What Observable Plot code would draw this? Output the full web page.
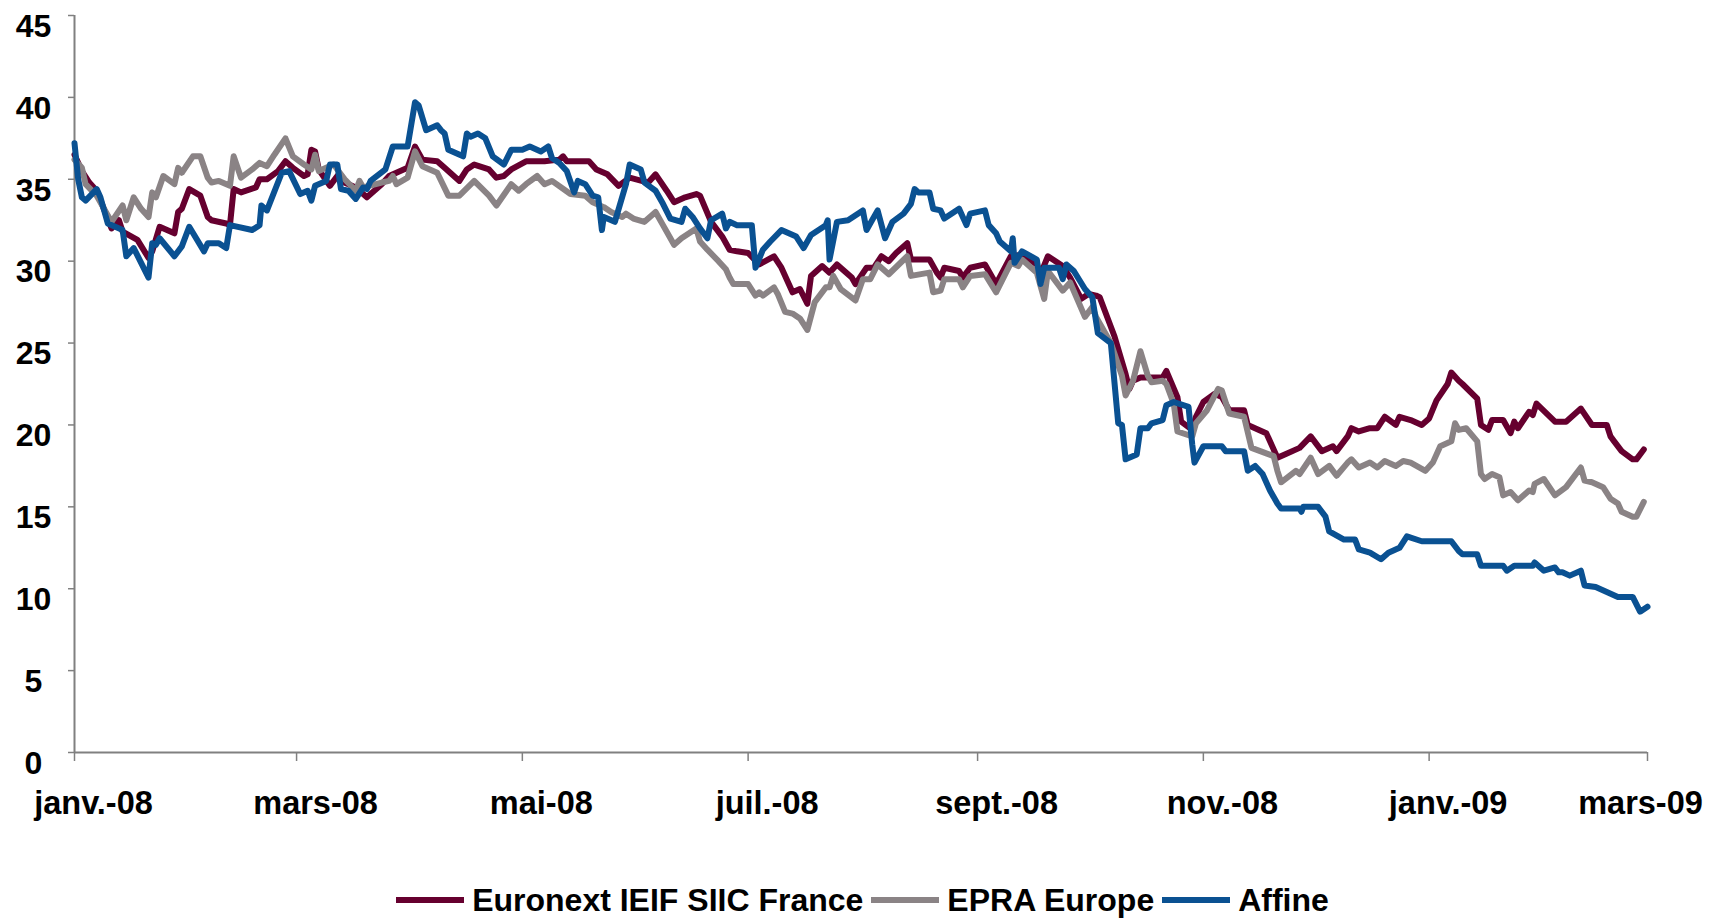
<!DOCTYPE html>
<html>
<head>
<meta charset="utf-8">
<script src="https://cdn.jsdelivr.net/npm/d3@7"></script>
<script src="https://cdn.jsdelivr.net/npm/@observablehq/plot@0.6"></script>
<style>
  html, body { margin: 0; padding: 0; background: #ffffff; }
  body { width: 1725px; height: 919px; overflow: hidden; font-family: "Liberation Sans", Arial, sans-serif; }
  #chart svg { display: block; overflow: visible; }
  #legend { display: flex; justify-content: center; align-items: center; margin-top: 26px; height: 38px;
            font-size: 32px; font-weight: bold; color: #000; }
  .item { display: flex; align-items: center; margin: 0 4px; }
  .sw { width: 68px; height: 6px; margin-right: 8px; }
</style>
</head>
<body>
<div id="chart"></div>
<div id="legend"></div>
<script>
// ---- Data (day offset from 1 Jan 2008, value) ----
const seriesNames = ["Euronext IEIF SIIC France", "EPRA Europe", "Affine"];
const seriesColors = ["#66002f", "#8a8385", "#0a5192"];
const xTickDates = ["2008-01-01","2008-03-01","2008-05-01","2008-07-01","2008-09-01","2008-11-01","2009-01-01","2009-03-01"];
const xTickLabels = ["janv.-08","mars-08","mai-08","juil.-08","sept.-08","nov.-08","janv.-09","mars-09"];
const yTicks = [0,5,10,15,20,25,30,35,40,45];

const euronext = [[0,36.5],[2,35.5],[4,34.8],[6,34.3],[10,32.0],[12,32.5],[13,31.8],[17,31.3],[20,30.2],[21,30.6],[23,32.1],[25,31.9],[27,31.7],[28,33.0],[29,33.2],[31,34.4],[34,34.0],[36,32.7],[37,32.5],[41,32.3],[42,32.2],[43,34.4],[45,34.2],[49,34.5],[50,35.0],[52,35.0],[55,35.5],[57,36.1],[59,35.7],[62,35.2],[63,35.3],[64,36.8],[65,36.7],[66,35.6],[69,34.6],[71,35.2],[72,34.9],[76,34.5],[79,33.9],[83,34.7],[85,35.2],[90,35.7],[92,37.0],[94,36.2],[98,36.1],[100,35.7],[104,34.9],[106,35.6],[108,35.9],[112,35.6],[114,35.1],[116,35.2],[118,35.6],[122,36.1],[127,36.1],[131,36.2],[132,36.4],[133,36.1],[139,36.1],[141,35.6],[144,35.3],[147,34.6],[150,35.1],[155,34.8],[157,35.3],[160,34.3],[162,33.6],[165,33.9],[168,34.1],[169,34.0],[172,32.4],[175,31.5],[177,30.7],[179,30.6],[182,30.5],[185,29.8],[189,30.3],[191,29.6],[194,28.1],[196,28.3],[198,27.4],[199,29.1],[202,29.7],[204,29.3],[206,29.8],[210,29.0],[211,28.6],[214,29.6],[216,29.6],[218,30.3],[220,30.0],[222,30.5],[225,31.1],[226,30.1],[231,30.1],[233,29.3],[234,29.0],[235,29.6],[239,29.4],[240,29.0],[242,29.6],[246,29.8],[249,28.6],[253,30.3],[256,30.4],[260,29.8],[261,29.2],[263,30.3],[267,29.7],[269,29.0],[272,27.7],[274,28.0],[276,27.9],[277,27.8],[281,25.4],[284,23.1],[285,22.2],[286,22.7],[288,22.9],[294,22.9],[295,23.3],[298,21.7],[299,20.2],[302,19.7],[303,20.5],[305,21.4],[308,21.9],[310,21.7],[312,20.9],[316,20.9],[317,20.0],[322,19.5],[325,18.0],[327,18.2],[331,18.6],[334,19.3],[337,18.4],[340,18.7],[341,18.4],[344,19.3],[345,19.8],[347,19.6],[350,19.8],[352,19.8],[354,20.5],[357,20.0],[358,20.5],[361,20.3],[364,20.0],[366,20.4],[368,21.5],[371,22.5],[372,23.2],[374,22.7],[375,22.5],[379,21.6],[380,20.0],[382,19.7],[383,20.3],[386,20.3],[388,19.5],[389,20.2],[390,19.8],[393,20.8],[394,20.6],[395,21.3],[400,20.2],[403,20.2],[407,21.0],[410,20.0],[414,20.0],[415,19.3],[416,19.0],[418,18.4],[421,17.9],[422,17.9],[424,18.5]];

const epra = [[0,36.2],[2,35.7],[3,34.7],[6,34.0],[10,32.4],[13,33.4],[14,32.5],[16,33.9],[18,33.2],[20,32.7],[21,34.2],[22,33.9],[24,35.2],[27,34.7],[28,35.7],[29,35.4],[32,36.4],[34,36.4],[36,35.1],[37,34.8],[39,34.9],[42,34.6],[43,36.4],[45,35.1],[48,35.6],[50,36.0],[52,35.8],[54,36.5],[57,37.5],[59,36.4],[62,35.9],[64,35.6],[65,36.5],[66,35.5],[68,35.7],[70,35.9],[73,35.0],[76,34.3],[77,34.9],[78,34.5],[83,34.8],[85,34.9],[86,35.2],[87,34.7],[90,35.1],[92,36.7],[94,35.8],[98,35.4],[101,34.0],[104,34.0],[108,34.9],[112,34.0],[114,33.4],[118,34.7],[120,34.3],[122,34.7],[125,35.2],[127,34.7],[129,34.9],[134,34.1],[138,34.0],[140,33.6],[143,33.3],[145,33.0],[148,32.7],[149,32.9],[151,32.6],[154,32.4],[157,33.0],[159,32.2],[162,31.0],[164,31.4],[168,32.0],[169,31.2],[171,30.7],[174,30.0],[176,29.5],[177,29.0],[178,28.6],[182,28.6],[184,27.9],[185,28.1],[186,27.9],[189,28.4],[190,28.0],[192,26.9],[194,26.8],[196,26.5],[198,25.8],[200,27.5],[203,28.4],[204,28.4],[205,29.1],[207,28.3],[211,27.6],[213,28.9],[215,28.9],[217,29.8],[220,29.2],[225,30.3],[226,29.1],[231,29.3],[232,28.1],[234,28.2],[235,28.9],[239,28.9],[240,28.4],[242,29.1],[246,29.2],[249,28.1],[253,29.9],[255,29.7],[256,30.1],[260,29.3],[262,27.7],[263,29.4],[267,28.2],[269,28.7],[273,26.6],[275,27.2],[276,26.6],[280,25.0],[283,23.0],[284,21.8],[286,22.7],[288,24.5],[290,23.0],[291,22.6],[294,22.7],[295,22.5],[297,21.3],[298,19.6],[302,19.3],[303,20.1],[306,20.9],[309,22.2],[310,22.1],[312,20.7],[316,20.5],[318,18.6],[324,18.1],[325,17.2],[326,16.5],[330,17.2],[331,17.0],[334,18.0],[336,17.0],[339,17.5],[341,16.9],[344,17.7],[345,17.9],[347,17.4],[350,17.7],[352,17.4],[354,17.8],[357,17.5],[359,17.8],[361,17.7],[365,17.2],[367,17.7],[369,18.7],[372,19.0],[373,20.1],[374,19.7],[376,19.8],[379,19.0],[380,17.0],[381,16.7],[383,17.0],[385,16.8],[386,15.7],[388,15.9],[390,15.4],[393,16.0],[394,15.9],[394.5,16.4],[397,16.7],[400,15.7],[403,16.2],[407,17.4],[408,16.6],[410,16.5],[413,16.2],[415,15.5],[417,15.2],[418,14.7],[421,14.4],[422,14.4],[424,15.3]];

const affine = [[0,37.2],[1,35.0],[2,33.9],[3,33.7],[6,34.4],[7,33.9],[9,32.3],[13,31.9],[14,30.3],[16,30.8],[20,29.0],[21,31.1],[22,31.0],[23,31.4],[27,30.3],[29,30.9],[31,32.1],[35,30.6],[36,31.1],[39,31.1],[41,30.8],[42,32.2],[48,31.9],[50,32.2],[50.5,33.4],[52,33.1],[56,35.4],[58,35.5],[61,34.1],[63,34.3],[64,33.7],[65,34.6],[68,34.9],[69,35.9],[71,35.9],[72,34.4],[74,34.3],[76,33.8],[78,34.5],[79,34.4],[80,34.9],[84,35.6],[86,37.0],[90,37.0],[92,39.7],[93,39.5],[95,38.0],[98,38.3],[99,38.0],[100,37.8],[101,36.8],[105,36.4],[106,37.8],[107,37.6],[109,37.8],[111,37.5],[113,36.4],[116,35.9],[118,36.8],[121,36.8],[123,37.0],[126,36.7],[128,37.0],[129,36.3],[131,36.0],[133,35.5],[135,34.2],[136,34.9],[138,34.7],[140,34.0],[141.5,33.9],[142.5,31.9],[143,32.7],[146,32.4],[149,34.7],[150,35.9],[153,35.6],[154,34.8],[157,34.3],[159,33.5],[161,32.6],[164,32.4],[165,33.2],[167,32.7],[169,32.0],[171,31.4],[172,32.5],[175,32.9],[176,32.0],[177,32.4],[179,32.2],[183,32.2],[184,29.6],[186,30.7],[188,31.2],[191,31.9],[193,31.7],[195,31.5],[197,30.8],[199,31.6],[203,32.2],[203.5,32.5],[204,30.1],[206,32.4],[209,32.5],[213,33.1],[214,31.9],[217,33.1],[219,31.4],[221,32.4],[224,32.9],[226,33.5],[227,34.4],[228,34.2],[231,34.2],[232,33.2],[234,33.1],[235,32.6],[239,33.2],[241,32.2],[242,32.9],[246,33.1],[247,32.2],[249,31.7],[250,31.2],[253,30.6],[253.5,31.4],[254,29.9],[256,30.6],[260,30.1],[261,28.6],[262,29.6],[266,29.6],[267,28.9],[268,29.8],[270,29.4],[273,28.3],[275,27.8],[276.5,25.6],[280,25.0],[282,20.1],[283,20.0],[284,17.9],[287,18.2],[288,19.8],[290,19.8],[291,20.1],[294,20.3],[295,21.2],[297,21.4],[301,21.1],[302,18.8],[302.6,17.7],[305,18.7],[310,18.7],[311,18.4],[316,18.4],[317,17.2],[319,17.5],[321,17.0],[323,16.0],[325,15.2],[326,14.9],[331,14.9],[331.5,14.7],[332,15.0],[336,15.0],[338,14.4],[339,13.5],[343,13.0],[346,13.0],[347,12.4],[350,12.2],[353,11.8],[355,12.2],[358,12.5],[360,13.2],[364,12.9],[372,12.9],[374,12.3],[375,12.1],[379,12.1],[380,11.4],[386,11.4],[387,11.1],[389,11.4],[394,11.4],[394.5,11.6],[397,11.1],[400,11.3],[401,11.0],[402,11.0],[404,10.8],[407,11.1],[408,10.2],[411,10.1],[414,9.8],[417,9.5],[421,9.5],[423,8.6],[425,8.9]];

// ---- Build ----
const t0 = Date.UTC(2008, 0, 1);
const toDate = d => new Date(t0 + d * 864e5);
const rows = [];
[euronext, epra, affine].forEach((s, k) => s.forEach(([d, v]) => rows.push({date: toDate(d), value: v, serie: seriesNames[k]})));

const tickDates = xTickDates.map(s => new Date(s + "T00:00:00Z"));
const labelFor = d => xTickLabels[tickDates.findIndex(t => +t === +d)];
const axisStroke = "#808080";
const yFont = {fontSize: 32, fontWeight: "bold", fill: "#000"};
const xFont = {fontSize: 32.5, fontWeight: "bold", fill: "#000"};

const chart = Plot.plot({
  width: 1725,
  height: 855,
  marginLeft: 74,
  marginRight: 78,
  marginTop: 15,
  marginBottom: 103,
  style: {fontFamily: "'Liberation Sans', Arial, sans-serif", background: "#ffffff", overflow: "visible"},
  x: {type: "utc", domain: [tickDates[0], tickDates[tickDates.length - 1]], label: null},
  y: {domain: [0, 45], label: null},
  color: {domain: seriesNames, range: seriesColors},
  marks: [
    Plot.ruleY([0], {stroke: axisStroke, strokeWidth: 2}),
    Plot.ruleX([tickDates[0]], {y1: 0, y2: 45, stroke: axisStroke, strokeWidth: 2}),
    Plot.axisY({ticks: yTicks, tickSize: 6, stroke: axisStroke, strokeWidth: 1.5, tickFormat: () => "", label: null}),
    Plot.axisY({ticks: yTicks, tickSize: 0, tickPadding: 41, textAnchor: "middle", dy: 11, ...yFont, tickFormat: d => String(d), label: null}),
    Plot.axisX({ticks: tickDates, tickSize: 9, stroke: axisStroke, strokeWidth: 1.5, tickFormat: () => "", label: null}),
    Plot.axisX({ticks: tickDates.slice(0, 7), tickSize: 0, tickPadding: 38, dx: 19, ...xFont, tickFormat: labelFor, label: null}),
    Plot.axisX({ticks: tickDates.slice(7), tickSize: 0, tickPadding: 38, dx: -7, ...xFont, tickFormat: labelFor, label: null}),
    Plot.line(rows, {x: "date", y: "value", z: "serie", stroke: "serie", strokeWidth: 6, strokeLinejoin: "round", strokeLinecap: "round"})
  ]
});
document.getElementById("chart").appendChild(chart);

const legend = document.getElementById("legend");
seriesNames.forEach((n, i) => {
  const it = document.createElement("div");
  it.className = "item";
  const sw = document.createElement("div");
  sw.className = "sw";
  sw.style.background = seriesColors[i];
  const tx = document.createElement("span");
  tx.textContent = n;
  it.appendChild(sw); it.appendChild(tx);
  legend.appendChild(it);
});
</script>
</body>
</html>
